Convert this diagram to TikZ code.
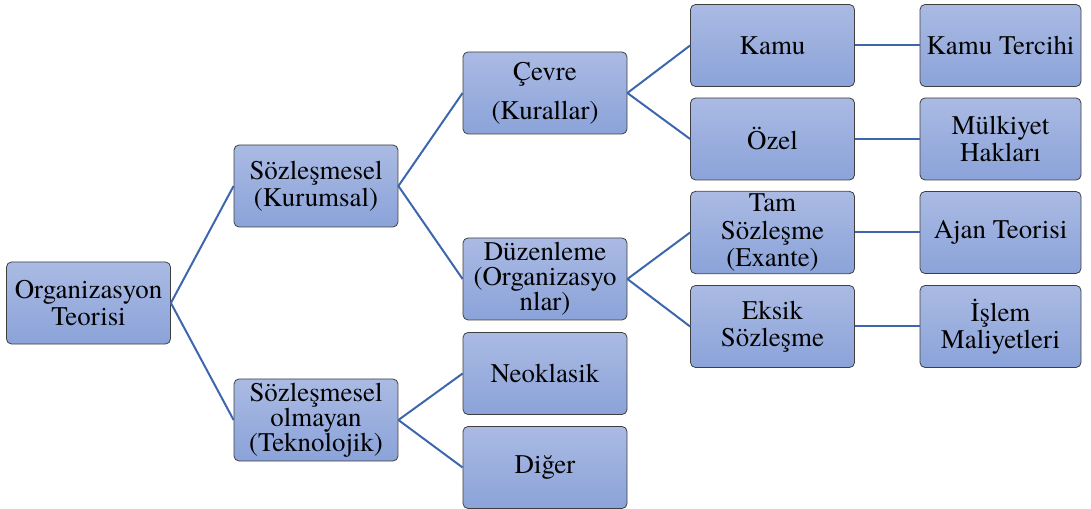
\documentclass[tikz,border=0pt]{standalone}
\usepackage{fontspec}
\setmainfont{texgyretermes}[Extension=.otf, UprightFont=*-regular]
\usepackage{xcolor}
\usepackage{tikz}
\usetikzlibrary{calc}
\definecolor{B0}{HTML}{AABAE3}
\definecolor{B1}{HTML}{8BA3D9}
\definecolor{B7}{HTML}{3F3F3F}
\definecolor{L0}{HTML}{3E66AE}
\tikzset{
  kutu/.style={draw=B7, line width=0.8bp, rounded corners=5bp, top color=B0, bottom color=B1,
    minimum width=164bp, minimum height=82bp, inner sep=2bp, align=center,
    font=\fontsize{27}{27}\selectfont},
  bag/.style={L0, line width=2bp}
}
\begin{document}
\begin{tikzpicture}[x=1bp,y=-1bp]
\useasboundingbox (0,0) rectangle (1091,509);
% level 0
\node[kutu] (org) at (88.5,303) {Organizasyon\\Teorisi};
% level 1
\node[kutu] (kurumsal) at (316,186) {Sözleşmesel\\(Kurumsal)};
\node[kutu, font=\fontsize{27}{21}\selectfont] (teknolojik) at (316,420) {Sözleşmesel\\olmayan\\(Teknolojik)};
% level 2
\node[kutu] (cevre) at (545,93) {Çevre\\[12bp](Kurallar)};
\node[kutu, font=\fontsize{27}{25}\selectfont] (duzen) at (545,279) {Düzenleme\\(Organizasyo\\nlar)};
\node[kutu] (neoklasik) at (545,373.5) {Neoklasik};
\node[kutu] (diger) at (545,467.5) {Diğer};
% level 3
\node[kutu] (kamu) at (772.5,45.5) {Kamu};
\node[kutu] (ozel) at (772.5,139) {Özel};
\node[kutu, font=\fontsize{27}{28}\selectfont] (tam) at (772.5,232.5) {Tam\\Sözleşme\\(Exante)};
\node[kutu] (eksik) at (772.5,326.5) {Eksik\\Sözleşme};
% level 4
\node[kutu, minimum width=161bp] (tercih) at (1000.5,45.5) {Kamu Tercihi};
\node[kutu, minimum width=161bp] (mulkiyet) at (1000.5,139) {Mülkiyet\\Hakları};
\node[kutu, minimum width=161bp] (ajan) at (1000.5,232.5) {Ajan Teorisi};
\node[kutu, minimum width=161bp] (islem) at (1000.5,326.5) {İşlem\\Maliyetleri};
%
\draw[bag] (org.east) -- (kurumsal.west);
\draw[bag] (org.east) -- (teknolojik.west);
\draw[bag] (kurumsal.east) -- (cevre.west);
\draw[bag] (kurumsal.east) -- (duzen.west);
\draw[bag] (teknolojik.east) -- (neoklasik.west);
\draw[bag] (teknolojik.east) -- (diger.west);
\draw[bag] (cevre.east) -- (kamu.west);
\draw[bag] (cevre.east) -- (ozel.west);
\draw[bag] (duzen.east) -- (tam.west);
\draw[bag] (duzen.east) -- (eksik.west);
%
\draw[bag] (kamu.east) -- (tercih.west);
\draw[bag] (ozel.east) -- (mulkiyet.west);
\draw[bag] (tam.east) -- (ajan.west);
\draw[bag] (eksik.east) -- (islem.west);
\end{tikzpicture}
\end{document}
